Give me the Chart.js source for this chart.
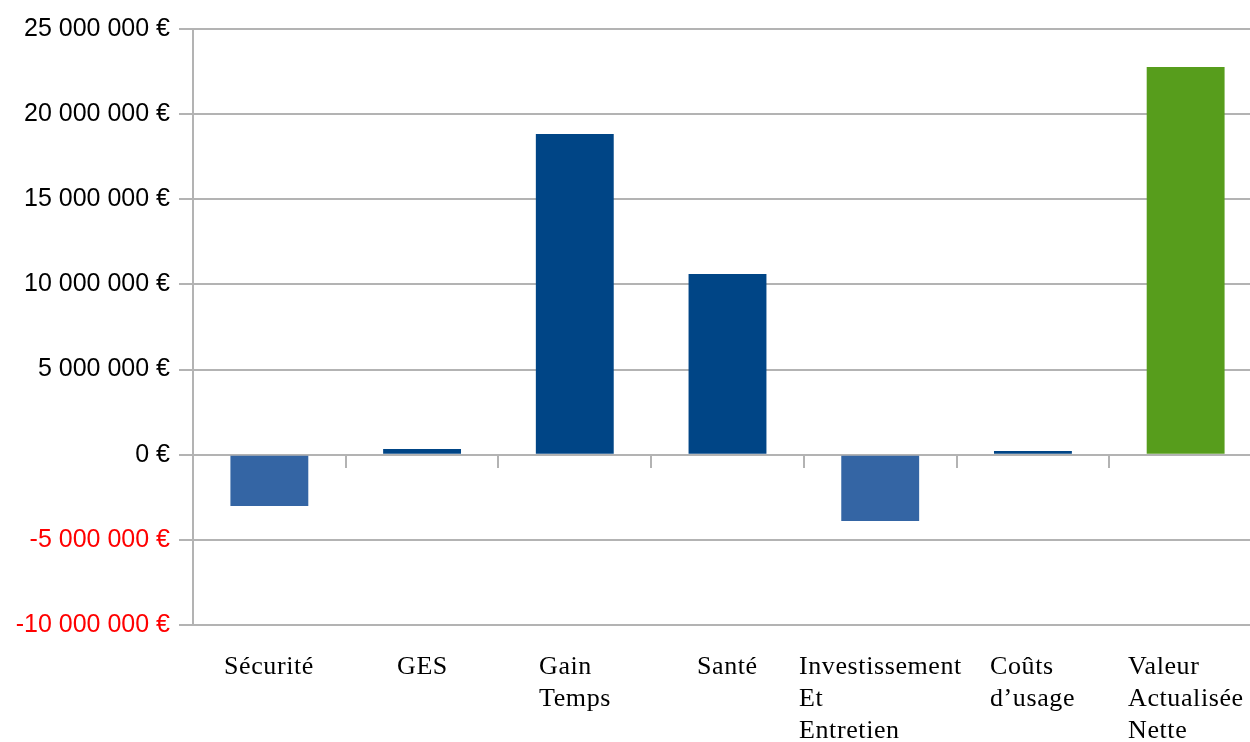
<!DOCTYPE html>
<html>
<head>
<meta charset="utf-8">
<script src="https://cdn.jsdelivr.net/npm/chart.js@4/dist/chart.umd.min.js"></script>
<style>
  html, body { margin: 0; padding: 0; background: #fff; overflow: hidden; }
  #wrap { width: 1264px; height: 742px; position: relative; }
</style>
</head>
<body>
<div id="wrap"><canvas id="chart"></canvas></div>
<script>
const categories = [
  ["Sécurité"],
  ["GES"],
  ["Gain", "Temps"],
  ["Santé"],
  ["Investissement", "Et", "Entretien"],
  ["Coûts", "d\u2019usage"],
  ["Valeur", "Actualisée", "Nette"],
];
const values = [-3010000, 330000, 18830000, 10610000, -3890000, 220000, 22770000];
const barColors = ["#3465a4", "#004586", "#004586", "#004586", "#3465a4", "#004586", "#579d1c"];
const yMin = -10000000;
const yMax = 25000000;
const yStep = 5000000;

const formatEuro = (v) => {
  const s = Math.abs(v).toString().replace(/\B(?=(\d{3})+(?!\d))/g, " ");
  return (v < 0 ? "-" : "") + s + " €";
};

// draws the category labels as left aligned blocks centred under each bar
const labelPlugin = {
  id: "blockLabels",
  afterDraw(chart) {
    const ctx = chart.ctx;
    const xScale = chart.scales.x;
    ctx.save();
    ctx.font = "26px 'Liberation Serif'";
    ctx.letterSpacing = "0.6px";
    ctx.fillStyle = "#000";
    ctx.textBaseline = "alphabetic";
    ctx.textAlign = "left";
    categories.forEach((lines, i) => {
      const cx = xScale.getPixelForValue(i);
      const w = Math.max(...lines.map((l) => ctx.measureText(l).width));
      lines.forEach((line, k) => {
        ctx.fillText(line, Math.round(cx - w / 2), 674 + k * 32);
      });
    });
    ctx.restore();
  },
};

const ctx = document.getElementById("chart").getContext("2d");
new Chart(ctx, {
  type: "bar",
  data: {
    labels: categories,
    datasets: [
      {
        data: values,
        backgroundColor: barColors,
        borderWidth: 0,
        barPercentage: 0.51,
        categoryPercentage: 1,
      },
    ],
  },
  options: {
    responsive: true,
    maintainAspectRatio: false,
    animation: false,
    layout: { padding: { top: 29, right: 2, left: 0, bottom: 0 } },
    plugins: {
      legend: { display: false },
      tooltip: { enabled: false },
    },
    scales: {
      x: {
        type: "category",
        offset: true,
        grid: { display: false },
        border: { display: false },
        ticks: { display: false },
        afterFit: (scale) => {
          scale.height = 117;
        },
      },
      x2: {
        type: "category",
        labels: categories,
        position: { y: 0 },
        offset: true,
        grid: {
          offset: true,
          drawOnChartArea: false,
          drawTicks: true,
          tickLength: 12,
          color: "#b3b3b3",
          lineWidth: 2,
        },
        border: { display: true, color: "#b3b3b3", width: 2 },
        ticks: { display: false },
      },
      y: {
        min: yMin,
        max: yMax,
        ticks: {
          stepSize: yStep,
          padding: 9,
          font: { family: "'Liberation Sans'", size: 25 },
          color: (c) => (c.tick && c.tick.value < 0 ? "#ff0000" : "#000000"),
          callback: (v) => formatEuro(v),
        },
        grid: {
          color: "#b3b3b3",
          lineWidth: 2,
          tickLength: 14,
        },
        border: { display: true, color: "#b3b3b3", width: 2 },
        afterFit: (scale) => {
          scale.width = 193;
        },
      },
    },
  },
  plugins: [labelPlugin],
});
</script>
</body>
</html>
